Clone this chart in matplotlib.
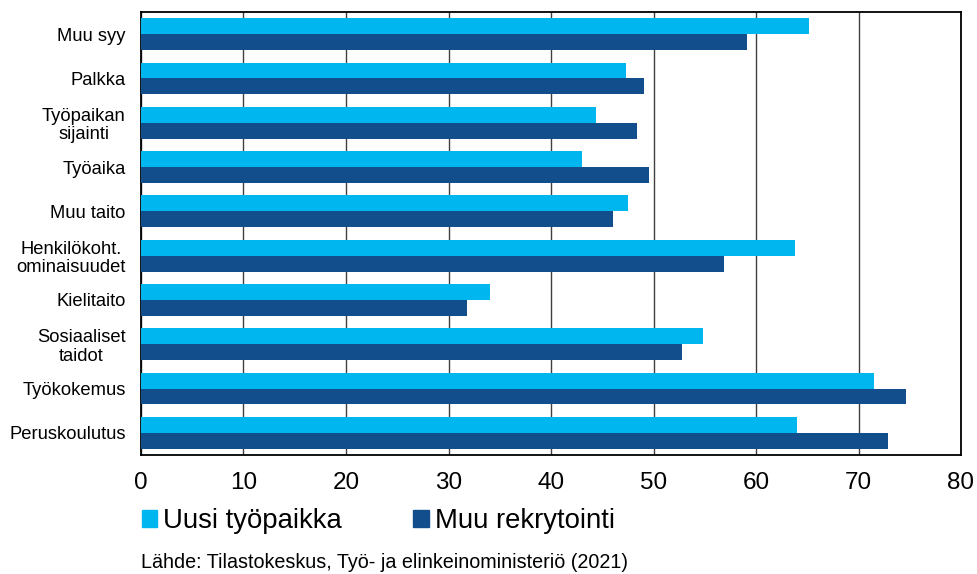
import matplotlib
matplotlib.use("Agg")
import matplotlib.pyplot as plt
import numpy as np
from matplotlib.patches import Patch

plt.rcParams['font.family'] = ['Liberation Sans', 'DejaVu Sans']

categories = ["Muu syy", "Palkka", "Työpaikan\nsijainti", "Työaika", "Muu taito",
              "Henkilökoht.\nominaisuudet", "Kielitaito", "Sosiaaliset\ntaidot",
              "Työkokemus", "Peruskoulutus"]
uusi = [65.2, 47.3, 44.4, 43.0, 47.5, 63.8, 34.0, 54.8, 71.5, 64.0]
muu = [59.1, 49.1, 48.4, 49.6, 46.0, 56.9, 31.8, 52.8, 74.6, 72.9]
series_names = ["Uusi työpaikka", "Muu rekrytointi"]
xticks = [0, 10, 20, 30, 40, 50, 60, 70, 80]
source = "Lähde: Tilastokeskus, Työ- ja elinkeinoministeriö (2021)"

c_light = "#00B6EE"
c_dark = "#114E8B"

fig = plt.figure(figsize=(9.78, 5.74), dpi=100)
ax = fig.add_axes([141/978, 1-455/574, (961-141)/978, (455-12)/574])

y = np.arange(len(categories))
h = 0.36
ax.barh(y - h/2, uusi, height=h, color=c_light, zorder=3)
ax.barh(y + h/2, muu, height=h, color=c_dark, zorder=3)

ax.set_ylim(len(categories) - 0.5, -0.5)
ax.set_xlim(0, 80)
ax.set_xticks(xticks)
ax.set_xticklabels([str(t) for t in xticks], fontsize=17.5)
ax.set_yticks(y)
ax.set_yticklabels(categories, fontsize=13.2, multialignment='center', linespacing=1.1)
ax.tick_params(axis='y', length=0, pad=11)
ax.tick_params(axis='x', length=0, pad=12)
ax.xaxis.grid(True, color="#404040", linewidth=1, zorder=0)
for s in ax.spines.values():
    s.set_color("black")
    s.set_linewidth(1.3)

handles = [Patch(color=c_light), Patch(color=c_dark)]
fig.legend(handles, series_names, loc='center left',
           bbox_to_anchor=(142/978, 1-521/574), ncol=2, frameon=False,
           fontsize=19.8, handlelength=0.55, handleheight=0.55, handletextpad=0.22,
           columnspacing=2.6, borderpad=0, borderaxespad=0)

fig.text(141/978, 1-563/574, source, fontsize=14.2, va='center', ha='left')

fig.savefig("out.png", dpi=100)
